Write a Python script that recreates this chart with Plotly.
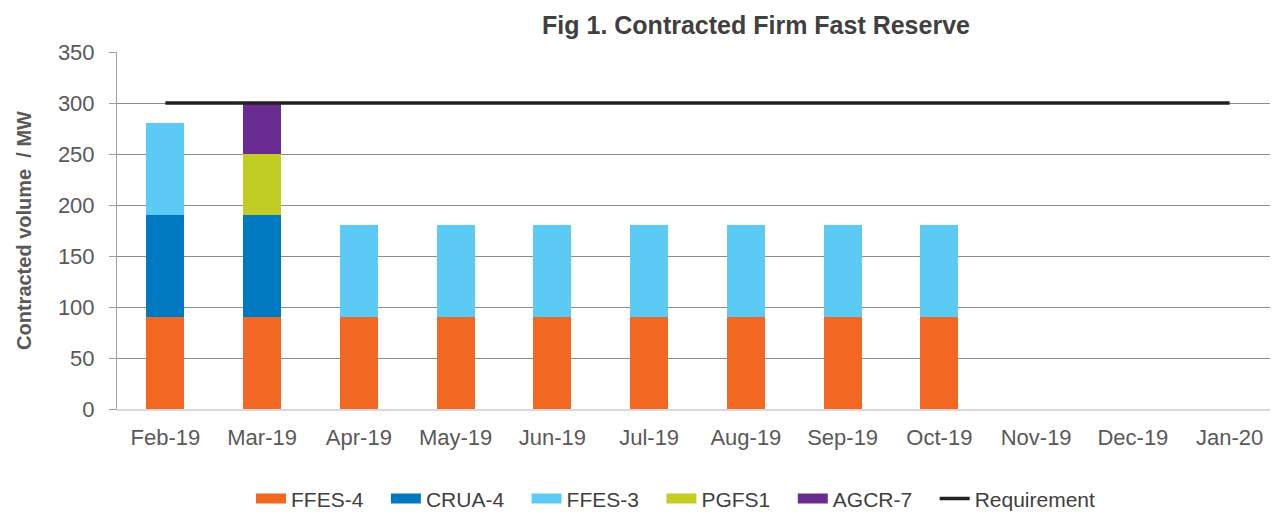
import plotly.graph_objects as go

months = ["Feb-19", "Mar-19", "Apr-19", "May-19", "Jun-19", "Jul-19",
          "Aug-19", "Sep-19", "Oct-19", "Nov-19", "Dec-19", "Jan-20"]
ffes4 = [90, 90, 90, 90, 90, 90, 90, 90, 90, None, None, None]
crua4 = [100, 100, None, None, None, None, None, None, None, None, None, None]
ffes3 = [90, None, 90, 90, 90, 90, 90, 90, 90, None, None, None]
pgfs1 = [None, 60, None, None, None, None, None, None, None, None, None, None]
agcr7 = [None, 50, None, None, None, None, None, None, None, None, None, None]
requirement = [300] * 12

series = [("FFES-4", ffes4, "#F26722"), ("CRUA-4", crua4, "#0079C1"),
          ("FFES-3", ffes3, "#5BCBF5"), ("PGFS1", pgfs1, "#C2CD23"),
          ("AGCR-7", agcr7, "#6A2C91")]

PAD = "\u00a0\u00a0\u00a0"  # extra spacing between legend entries

fig = go.Figure()
for name, vals, col in series:
    fig.add_trace(go.Bar(x=months, y=vals, name=name, legendgroup=name, showlegend=False,
                         marker=dict(color=col, line=dict(width=0))))
    # legend-only entry giving a wide rectangular swatch
    fig.add_trace(go.Scatter(x=[None], y=[None], name=name + PAD, legendgroup=name, mode="lines",
                             line=dict(color=col, width=10), hoverinfo="skip"))
fig.add_trace(go.Scatter(x=months, y=requirement, name="Requirement", mode="lines",
                         line=dict(color="#222222", width=3.5)))

font = "Liberation Sans, Arial, sans-serif"
# page body has an 8px margin, so the figure is drawn 1270x506 to fill the window
fig.update_layout(
    barmode="stack", bargap=0.607,
    width=1270, height=506,
    margin=dict(l=109, r=0, t=44, b=105),
    paper_bgcolor="white", plot_bgcolor="white",
    font=dict(family=font, size=22, color="#595959"),
    title=dict(text="<b>Fig 1. Contracted Firm Fast Reserve</b>", x=0.589, xanchor="center",
               y=0.966, yanchor="middle", font=dict(size=25, color="#404040")),
    legend=dict(orientation="h", xref="container", yref="container",
                x=0.526, xanchor="center", y=0.03, yanchor="middle",
                font=dict(size=21, color="#404040"), traceorder="normal", itemwidth=30),
    showlegend=True,
)
fig.update_yaxes(range=[0, 350], dtick=50, showgrid=True, gridcolor="#8c8c8c", gridwidth=1,
                 showline=True, linecolor="#a0a0a0", linewidth=1,
                 ticks="outside", ticklen=7, tickcolor="#a0a0a0", ticklabelstandoff=10,
                 tickfont=dict(size=22, color="#595959"),
                 title=dict(text="<b>Contracted volume  / MW</b>", font=dict(size=20, color="#595959"), standoff=20),
                 zeroline=False)
fig.update_xaxes(showline=True, linecolor="#d9d9d9", linewidth=2, showgrid=False,
                 ticks="outside", ticklen=8, tickcolor="rgba(0,0,0,0)",
                 tickfont=dict(size=22, color="#595959"))
fig.write_html("out.html")
